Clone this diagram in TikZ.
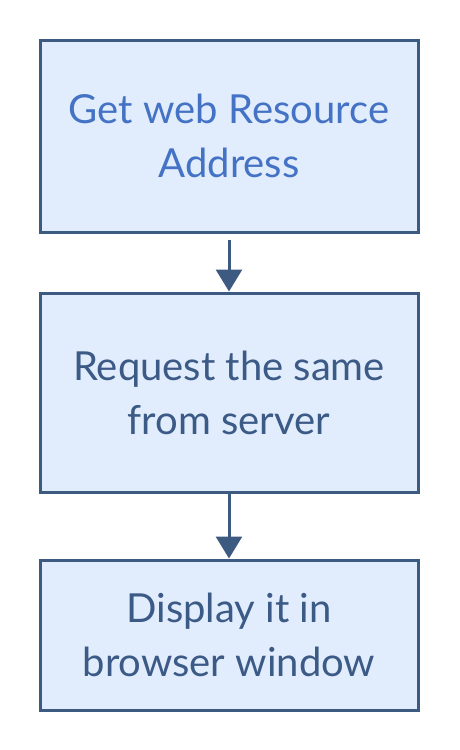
\documentclass[tikz,border=0pt]{standalone}
\usepackage{fontspec}
\setmainfont{Lato}
\usepackage{tikz}
\usetikzlibrary{arrows.meta,positioning}
\definecolor{boxline}{HTML}{3D5A80}
\definecolor{boxfill}{HTML}{E1ECFD}
\definecolor{firsttext}{HTML}{4472C4}
\definecolor{steptext}{HTML}{3B5A85}

\begin{document}
\begin{tikzpicture}[x=1pt,y=1pt,
	stepbox/.style={draw=boxline,fill=boxfill,line width=3pt,minimum width=378pt,
		align=center,text=steptext,font=\fontsize{40}{54}\selectfont,inner sep=0pt},
	flow/.style={draw=boxline,line width=3pt,-{Triangle[width=26pt,length=22pt]}}]
	\useasboundingbox (0,0) rectangle (459,-750);
	\node[stepbox,minimum height=192pt,text=firsttext] (address) at (229,-136) {Get web Resource\\Address};
	\node[stepbox,minimum height=199pt] (request) at (229,-392.5) {Request the same\\from server};
	\node[stepbox,minimum height=150pt] (display) at (229,-635) {Display it in\\browser window};
	\draw[flow] ([yshift=-6pt]address.south) -- (request.north);
	\draw[flow] (request.south) -- (display.north);
\end{tikzpicture}
\end{document}
